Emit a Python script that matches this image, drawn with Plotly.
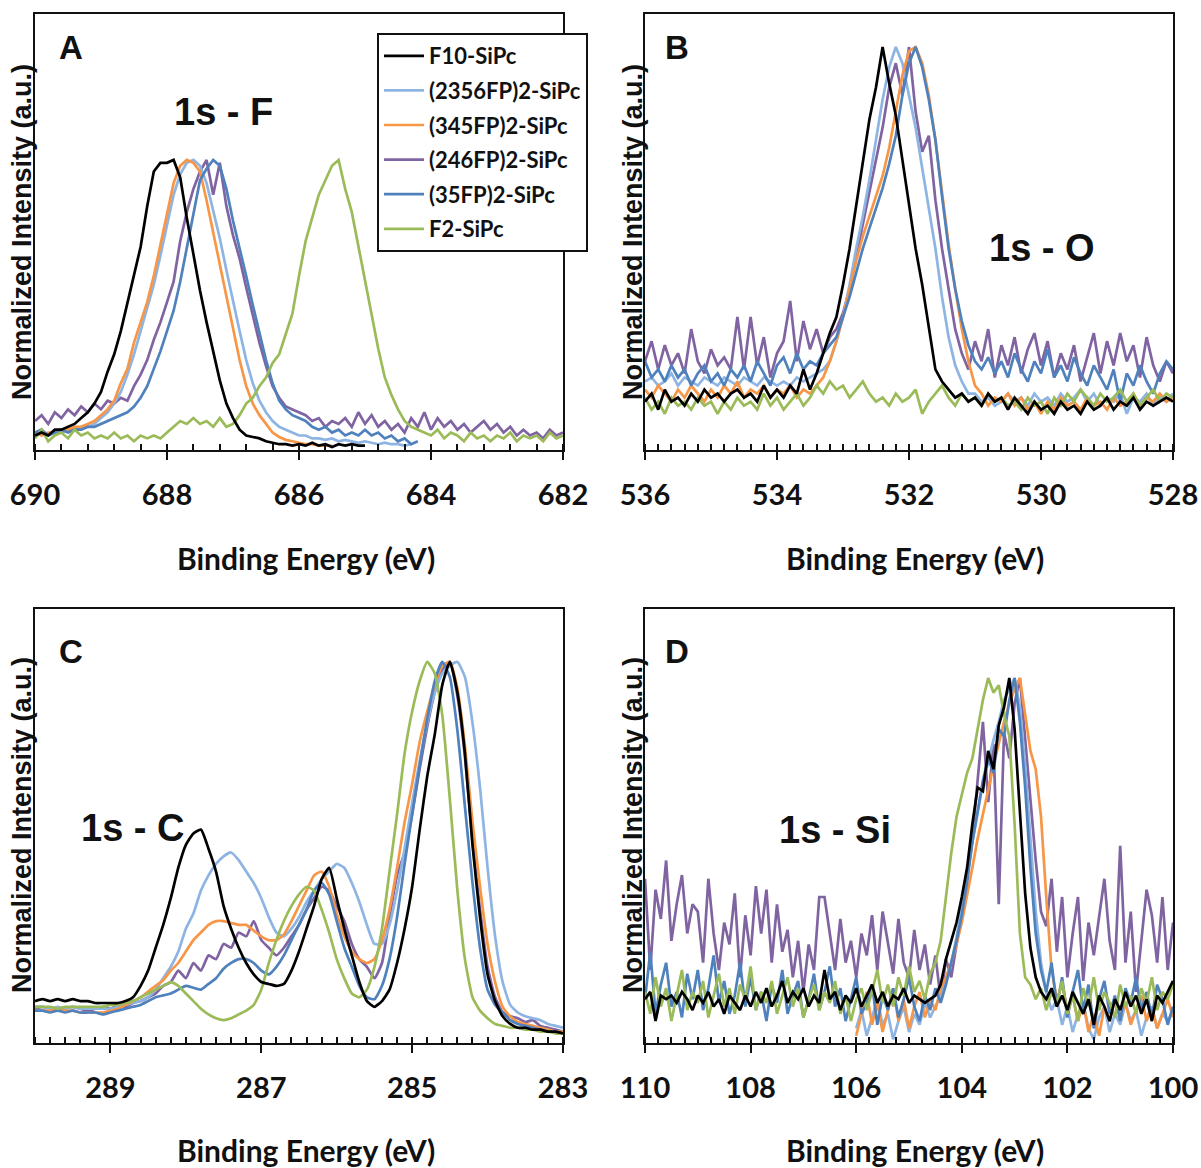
import plotly.graph_objects as go

# ---------------------------------------------------------------------------
# XPS core-level spectra of the fluorinated SiPc series (normalised to 100)
# Energies are sampled every 0.1 eV, running from high to low binding energy.
# ---------------------------------------------------------------------------
STEP = 0.1

# ---- F 1s (690 -> 682 eV) -------------------------------------------------
F1S_START = 690.0
F1S_F10 = [5, 6, 5, 7, 7, 8, 9, 11, 13, 16,
           20, 27, 33, 41, 51, 61, 70, 84, 96, 99,
           99, 100, 94, 80, 67, 55, 44, 34, 24, 16,
           11, 7, 5, 4.5, 4, 3, 2.5, 2, 2, 1.5,
           2, 1.5, 2.5, 1.5, 2, 1, 2, 1.5, 2, 1.5,
           1.5]
F1S_2356 = [5, 6, 5, 6, 6, 7, 7, 8, 8, 9,
            11, 13, 16, 20, 26, 33, 41, 49, 57, 67,
            78, 88, 95, 99, 100, 98, 92, 83, 73, 62,
            51, 41, 31, 23, 17, 13, 10, 8, 7, 6,
            5, 5, 4, 4, 3.5, 4, 3, 3.5, 3, 2.5,
            3, 2.5, 2, 2.5, 2, 2, 1.5, 2]
F1S_345 = [6, 5, 6, 6, 7, 7, 8, 8, 9, 10,
           12, 14, 17, 23, 28, 37, 44, 51, 60, 71,
           82, 92, 98, 100, 99, 96, 86, 75, 64, 52,
           41, 31, 22, 16, 12, 9, 6, 4.5, 3.5, 3,
           2.5, 2, 2, 1.5, 1.5, 1.5]
F1S_246 = [10, 12, 9, 13, 11, 14, 12, 15, 13, 16,
           14, 17, 16, 18, 17, 22, 26, 31, 38, 44,
           51, 58, 72, 82, 90, 96, 100, 88, 99, 84,
           74, 66, 56, 46, 37, 29, 22, 18, 15, 14,
           13, 12, 10, 11, 8, 10, 9, 11, 8, 13,
           9, 12, 8, 10, 7, 9, 6, 11, 8, 13,
           7, 11, 8, 10, 7, 9, 6, 8, 10, 7,
           9, 6, 8, 5, 7, 5, 6, 4, 7, 5,
           6]
F1S_35 = [6, 7, 5, 6, 7, 6, 7, 7, 8, 8,
          9, 10, 11, 12, 13, 15, 18, 22, 28, 34,
          41, 48, 58, 70, 82, 93, 97, 100, 98, 90,
          79, 70, 60, 50, 40, 31, 23, 17, 14, 12,
          11, 10, 8, 7, 8, 6, 7, 5, 6, 5,
          7, 5, 6, 4, 5, 3, 4, 2, 3]
F1S_F2 = [4, 7, 3, 5, 6, 4, 7, 5, 6, 4,
          5, 4, 6, 4, 5, 3, 5, 4, 5, 4,
          6, 8, 10, 9, 11, 9, 10, 8, 11, 8,
          9, 12, 16, 18, 22, 25, 30, 33, 40, 47,
          60, 72, 80, 88, 93, 98, 100, 90, 82, 70,
          59, 47, 35, 25, 19, 14, 10, 8, 7, 6,
          5, 7, 4, 6, 5, 3, 6, 4, 5, 3,
          5, 4, 6, 3, 5, 4, 5, 3, 6, 4,
          5]

# ---- O 1s (536 -> 528 eV) -------------------------------------------------
O1S_START = 536.0
O1S_F10 = [12, 14, 10, 15, 12, 13, 11, 14, 12, 15,
           13, 14, 12, 14, 15, 13, 14, 12, 16, 13,
           15, 13, 16, 14, 20, 15, 19, 24, 29, 33,
           41, 50, 61, 72, 82, 90, 100, 91, 83, 72,
           61, 50, 41, 31, 20, 17, 15, 13, 14, 12,
           13, 11, 14, 12, 13, 10, 13, 11, 9, 12,
           10, 11, 9, 12, 10, 11, 9, 12, 10, 11,
           13, 10, 12, 11, 13, 10, 12, 11, 12, 13,
           12]
O1S_2356 = [17, 18, 16, 17, 19, 16, 18, 17, 16, 18,
            17, 16, 18, 17, 16, 18, 17, 16, 18, 17,
            16, 17, 16, 18, 17, 18, 19, 20, 22, 27,
            33, 41, 50, 58, 67, 77, 87, 95, 100, 96,
            88, 80, 70, 60, 50, 38, 28, 21, 17, 14,
            14, 12, 13, 11, 12, 14, 12, 13, 11, 14,
            12, 13, 11, 14, 12, 13, 15, 12, 14, 11,
            13, 12, 14, 9, 13, 12, 14, 11, 13, 12,
            14]
O1S_345 = [15, 13, 16, 14, 12, 15, 13, 16, 14, 12,
           15, 13, 16, 14, 17, 13, 15, 14, 16, 13,
           15, 14, 16, 13, 15, 14, 16, 18, 22, 27,
           33, 40, 47, 53, 58, 63, 68, 75, 84, 93,
           99, 100, 96, 88, 77, 64, 51, 40, 30, 22,
           16, 14, 11, 13, 12, 14, 11, 13, 10, 12,
           9, 12, 10, 13, 11, 12, 10, 13, 11, 12,
           10, 13, 11, 12, 14, 11, 13, 12, 14, 12,
           13]
O1S_246 = [22, 27, 20, 26, 21, 24, 19, 30, 22, 19,
           25, 21, 23, 20, 33, 20, 33, 21, 28, 18,
           24, 27, 37, 22, 32, 25, 30, 24, 28, 30,
           34, 40, 48, 56, 64, 72, 80, 90, 96, 88,
           100, 84, 74, 78, 62, 50, 40, 30, 24, 20,
           27, 22, 30, 18, 26, 21, 28, 19, 25, 29,
           21, 27, 18, 24, 20, 26, 17, 23, 29, 19,
           27, 21, 29, 22, 26, 18, 28, 21, 17, 22,
           19]
O1S_35 = [22, 18, 20, 17, 21, 18, 20, 16, 19, 21,
          17, 19, 16, 20, 18, 21, 17, 22, 19, 16,
          21, 23, 19, 24, 20, 22, 21, 24, 26, 28,
          33, 38, 44, 50, 55, 60, 65, 71, 78, 88,
          96, 100, 95, 87, 77, 63, 50, 40, 32, 26,
          22, 20, 23, 19, 22, 18, 24, 20, 17, 22,
          19, 25, 18, 21, 17, 23, 19, 16, 21, 18,
          15, 20, 12, 19, 16, 21, 17, 14, 19, 22,
          20]
O1S_F2 = [13, 10, 12, 9, 13, 11, 12, 10, 13, 11,
          12, 9, 12, 10, 13, 11, 12, 10, 14, 11,
          13, 10, 12, 14, 11, 13, 16, 14, 17, 15,
          16, 13, 15, 17, 14, 12, 13, 11, 14, 12,
          13, 15, 9, 12, 14, 16, 13, 11, 14, 12,
          13, 11, 14, 12, 13, 11, 12, 10, 13, 11,
          12, 9, 13, 11, 14, 12, 15, 13, 11, 14,
          12, 13, 15, 12, 14, 11, 13, 15, 12, 14,
          13]

# ---- C 1s (290 -> 283 eV) -------------------------------------------------
C1S_START = 290.0
C1S_F10 = [11, 11.5, 11, 11.5, 11, 11.5, 11, 11, 10.5, 10.5,
           10.5, 10.5, 11, 12, 15, 19, 25, 31, 38, 46,
           52, 55, 56, 51, 45, 36, 30, 25, 21, 18,
           16, 15.5, 15, 15.5, 19, 24, 30, 36, 43, 46,
           38, 30, 23, 16, 11, 9.5, 11, 14, 21, 30,
           41, 56, 70, 81, 94, 100, 92, 76, 52, 33,
           18, 11, 7, 5, 4, 4, 3.5, 3.5, 3, 3,
           2.5]
C1S_2356 = [9.5, 9.5, 9, 9.5, 9, 9.5, 9, 9, 9, 9,
            9, 9.5, 10, 10.5, 11, 12, 14, 17, 20, 24,
            30, 34, 40, 44, 47, 49, 50, 48, 45, 42,
            38, 33, 29, 28, 30, 33, 37, 40, 43, 45,
            47, 46, 42, 37, 31, 26, 26, 31, 40, 51,
            63, 74, 84, 92, 97, 99, 100, 96, 84, 67,
            46, 28, 16, 10, 8, 7, 6.5, 6, 5, 4.5,
            4]
C1S_345 = [8.5, 8.5, 8.5, 8.5, 8.5, 8.5, 8, 8, 8, 8,
           8.5, 9, 10, 11, 12, 13.5, 15, 16.5, 19, 21,
           24, 27, 29, 31, 32, 32, 31.5, 31, 31, 29.5,
           28, 27, 27, 28.5, 32, 36, 40, 44, 45, 41,
           34, 28, 24, 22, 21, 22, 27, 35, 46, 58,
           68, 79, 87, 94, 99, 100, 93, 78, 58, 41,
           26, 16, 9.5, 7, 5.5, 5, 4.5, 4, 3.5, 3,
           3]
C1S_246 = [9, 9.5, 9, 8.5, 9, 9.5, 9, 8.5, 9, 9.5,
           9, 10, 9.5, 10.5, 11, 12, 13, 15, 16, 19,
           17, 21, 19, 23, 22, 26, 25, 29, 28, 32,
           27, 25, 23, 25, 28, 31, 35, 38, 41, 40,
           36, 32, 26, 22, 20, 17, 21, 33, 44, 50,
           60, 72, 83, 92, 98, 100, 91, 75, 53, 35,
           20, 12, 8, 7, 6.5, 5.5, 6, 4.5, 4, 3.5,
           3]
C1S_35 = [8.5, 8.5, 8, 8.5, 8, 8.5, 8, 8, 8, 7.5,
          8, 8.5, 9, 9.5, 10, 11, 12, 12.5, 13, 14,
          15, 14.5, 14, 15.5, 17, 19.5, 21, 22, 22, 21,
          19, 18, 20, 23, 27, 31, 35, 40, 42, 39,
          32, 25, 20, 15, 12, 11.5, 15, 22, 33, 47,
          60, 73, 85, 95, 100, 96, 82, 62, 42, 25,
          14, 10, 8, 6, 5, 4.5, 4, 3.5, 3, 3,
          2.5]
C1S_F2 = [9.5, 9.5, 9.5, 9, 9.5, 9.5, 9.5, 9.5, 9.5, 9.5,
          10, 10, 10.5, 11, 12, 13, 14, 15, 16, 15,
          13, 11, 9, 7.5, 6.5, 6, 6.5, 7.5, 8.5, 10,
          14, 21, 27, 32, 36, 39, 41, 40, 35, 29,
          22, 17, 13, 12, 14, 20, 30, 45, 60, 76,
          87, 95, 100, 97, 86, 64, 40, 22, 12, 8.5,
          6.5, 5, 4.5, 4, 4, 3.5, 3.5, 3, 3, 2.5,
          2.5]

# ---- Si (110 -> 100 eV) ---------------------------------------------------
SI_START = 110.0
SI_PARTIAL_START = 106.0   # (345FP)2 and (2356FP)2 scans begin here
SI_F10 = [12, 14, 6, 13, 12, 13, 11, 14, 12, 9,
          13, 11, 14, 10, 12, 8, 13, 11, 9, 13,
          10, 14, 11, 15, 10, 13, 17, 11, 14, 12,
          15, 10, 13, 11, 20, 12, 14, 9, 13, 11,
          15, 10, 13, 16, 11, 14, 10, 13, 12, 15,
          11, 13, 12, 11, 12, 13, 16, 23, 28, 33,
          40, 48, 60, 70, 69, 80, 75, 87, 92, 100,
          86, 64, 41, 26, 18, 14, 12, 15, 10, 13,
          9, 14, 11, 8, 12, 5, 13, 10, 6, 12,
          9, 14, 10, 13, 8, 12, 6, 13, 11, 14,
          17]
SI_2356 = [4, 9, 2, 7, 12, 5, 8, 1, 6, 10,
           3, 8, 5, 11, 7, 10, 13, 17, 22, 29,
           37, 46, 55, 63, 71, 77, 83, 88, 94, 97,
           100, 92, 76, 56, 36, 22, 14, 9, 12, 5,
           10, 3, 8, 11, 4, 1, 7, 10, 3, 8,
           5, 11, 6, 9, 2, 7, 10, 4, 8, 6,
           9]
SI_345 = [2, 8, 14, 5, 11, 3, 9, 15, 6, 12,
          4, 10, 14, 7, 12, 9, 15, 18, 22, 27,
          33, 40, 48, 56, 63, 70, 76, 82, 88, 93,
          97, 100, 90, 80, 75, 62, 40, 20, 12, 16,
          9, 13, 6, 11, 3, 8, 2, 10, 6, 12,
          7, 11, 5, 9, 13, 6, 10, 4, 8, 12,
          7]
SI_246 = [45, 20, 42, 34, 50, 28, 38, 46, 30, 38,
          36, 22, 45, 30, 20, 33, 27, 41, 18, 35,
          24, 43, 30, 42, 22, 38, 25, 31, 18, 28,
          14, 27, 20, 40, 40, 30, 20, 34, 22, 28,
          18, 30, 24, 35, 20, 36, 27, 19, 34, 22,
          18, 31, 20, 27, 16, 24, 12, 23, 18, 27,
          35, 45, 56, 71, 88, 66, 82, 38, 85, 78,
          93, 100, 83, 66, 50, 36, 32, 45, 25, 40,
          18, 30, 40, 17, 33, 24, 35, 45, 28, 20,
          54, 22, 36, 14, 28, 42, 35, 22, 40, 20,
          33]
SI_35 = [12, 25, 8, 16, 22, 10, 14, 7, 19, 12,
         20, 9, 15, 24, 11, 17, 8, 13, 22, 10,
         18, 9, 14, 6, 16, 11, 20, 8, 13, 17,
         7, 12, 19, 9, 14, 21, 10, 15, 6, 12,
         18, 8, 11, 16, 5, 13, 9, 15, 7, 12,
         18, 10, 6, 13, 9, 15, 11, 16, 22, 28,
         35, 44, 55, 64, 72, 78, 74, 86, 84, 94,
         100, 88, 70, 48, 30, 20, 14, 22, 10, 18,
         7, 14, 20, 9, 16, 4, 12, 17, 8, 13,
         6, 15, 11, 18, 9, 14, 7, 16, 12, 5,
         10]
SI_F2 = [14, 8, 18, 10, 15, 6, 13, 20, 9, 14,
         11, 17, 7, 13, 19, 10, 15, 8, 16, 12,
         21, 9, 14, 11, 17, 8, 13, 18, 10, 15,
         7, 12, 16, 9, 14, 11, 17, 8, 13, 6,
         12, 15, 9, 14, 20, 11, 16, 10, 18, 13,
         21, 14, 17, 12, 19, 22, 28, 40, 52, 62,
         68, 74, 78, 86, 94, 100, 96, 98, 90, 84,
         60, 30, 18, 16, 12, 15, 9, 14, 11, 17,
         8, 13, 6, 15, 10, 18, 9, 14, 11, 7,
         16, 10, 13, 8, 15, 11, 18, 9, 14, 12,
         16]

# ---- compounds, legend order and colours ------------------------------------
LEGEND_ORDER = ["F10-SiPc", "(2356FP)2-SiPc", "(345FP)2-SiPc",
                "(246FP)2-SiPc", "(35FP)2-SiPc", "F2-SiPc"]
DRAW_ORDER = ["(246FP)2-SiPc", "(2356FP)2-SiPc", "(345FP)2-SiPc",
              "(35FP)2-SiPc", "F2-SiPc", "F10-SiPc"]
COLORS = {
    "F10-SiPc": "#000000",
    "(2356FP)2-SiPc": "#8EB4E3",
    "(345FP)2-SiPc": "#F79646",
    "(246FP)2-SiPc": "#8064A2",
    "(35FP)2-SiPc": "#4F81BD",
    "F2-SiPc": "#9BBB59",
}

PANELS = [
    # axis suffix, series {name: (first energy, intensities)}
    ("", {
        "F10-SiPc": (F1S_START, F1S_F10),
        "(2356FP)2-SiPc": (F1S_START, F1S_2356),
        "(345FP)2-SiPc": (F1S_START, F1S_345),
        "(246FP)2-SiPc": (F1S_START, F1S_246),
        "(35FP)2-SiPc": (F1S_START, F1S_35),
        "F2-SiPc": (F1S_START, F1S_F2),
    }),
    ("2", {
        "F10-SiPc": (O1S_START, O1S_F10),
        "(2356FP)2-SiPc": (O1S_START, O1S_2356),
        "(345FP)2-SiPc": (O1S_START, O1S_345),
        "(246FP)2-SiPc": (O1S_START, O1S_246),
        "(35FP)2-SiPc": (O1S_START, O1S_35),
        "F2-SiPc": (O1S_START, O1S_F2),
    }),
    ("3", {
        "F10-SiPc": (C1S_START, C1S_F10),
        "(2356FP)2-SiPc": (C1S_START, C1S_2356),
        "(345FP)2-SiPc": (C1S_START, C1S_345),
        "(246FP)2-SiPc": (C1S_START, C1S_246),
        "(35FP)2-SiPc": (C1S_START, C1S_35),
        "F2-SiPc": (C1S_START, C1S_F2),
    }),
    ("4", {
        "F10-SiPc": (SI_START, SI_F10),
        "(2356FP)2-SiPc": (SI_PARTIAL_START, SI_2356),
        "(345FP)2-SiPc": (SI_PARTIAL_START, SI_345),
        "(246FP)2-SiPc": (SI_START, SI_246),
        "(35FP)2-SiPc": (SI_START, SI_35),
        "F2-SiPc": (SI_START, SI_F2),
    }),
]


def energies(start, count):
    """Binding-energy sample points of a scan, high to low."""
    return [round(start - STEP * i, 2) for i in range(count)]


fig = go.Figure()
for suffix, series in PANELS:
    for name in DRAW_ORDER:
        start, values = series[name]
        fig.add_trace(go.Scatter(
            x=energies(start, len(values)), y=values,
            mode="lines", name=name, legendgroup=name,
            xaxis="x" + suffix, yaxis="y" + suffix,
            line=dict(color=COLORS[name], width=2.7,
                      shape="spline" if suffix == "3" else "linear",
                      smoothing=0.5),
            showlegend=(suffix == ""),
            legendrank=LEGEND_ORDER.index(name) + 1,
            hoverinfo="skip",
        ))

W, H = 1201, 1168
INK = "#111111"
TICK_FONT = "Lato, Open Sans, sans-serif"
ARIAL = "Liberation Sans, Arial, sans-serif"

COLS = {"left": (35, 563), "right": (645, 1173)}
ROWS = {"top": (14, 450), "bottom": (609, 1043)}


def xdom(c):
    a, b = COLS[c]
    return [a / W, b / W]


def ydom(r):
    a, b = ROWS[r]
    return [1 - b / H, 1 - a / H]


def x_axis(col, row, rng, minor_step, anchor):
    return dict(
        domain=xdom(col), range=rng, anchor=anchor, automargin=False,
        tickmode="linear", tick0=rng[1], dtick=2,
        ticks="outside", ticklen=8, tickwidth=2, tickcolor=INK,
        showline=True, linewidth=2, linecolor=INK, mirror=True,
        showgrid=False, zeroline=False,
        tickfont=dict(family=TICK_FONT, size=29, color=INK, weight="bold"),
        ticklabelstandoff=10,
        minor=dict(ticks="inside", ticklen=6, tickwidth=1.5, tickcolor=INK,
                   tick0=rng[1], dtick=minor_step, showgrid=False),
    )


def y_axis(row, top, anchor):
    return dict(
        domain=ydom(row), range=[0, top], anchor=anchor, automargin=False,
        showline=True, linewidth=2, linecolor=INK, mirror=True,
        showticklabels=False, ticks="", showgrid=False, zeroline=False,
    )


fig.update_layout(
    width=W, height=H,
    margin=dict(l=0, r=0, t=0, b=0, autoexpand=False),
    paper_bgcolor="white", plot_bgcolor="white",
    xaxis=x_axis("left", "top", [690, 682], 0.4, "y"),
    yaxis=y_axis("top", 150.3, "x"),
    xaxis2=x_axis("right", "top", [536, 528], 0.2, "y2"),
    yaxis2=y_axis("top", 108.2, "x2"),
    xaxis3=x_axis("left", "bottom", [290, 283], 0.2, "y3"),
    yaxis3=y_axis("bottom", 113.9, "x3"),
    xaxis4=x_axis("right", "bottom", [110, 100], 0.25, "y4"),
    yaxis4=y_axis("bottom", 118.9, "x4"),
    showlegend=True,
    legend=dict(
        x=377 / W, y=1 - 33 / H, xanchor="left", yanchor="top",
        bgcolor="white", bordercolor=INK, borderwidth=2,
        font=dict(family=TICK_FONT, size=22, color=INK, weight="bold"),
        traceorder="grouped", tracegroupgap=3, itemwidth=40,
    ),
)


def note(text, px, py, size, family=ARIAL, angle=0):
    fig.add_annotation(
        text=text, x=px / W, y=1 - py / H, xref="paper", yref="paper",
        showarrow=False, xanchor="center", yanchor="middle", textangle=angle,
        font=dict(family=family, size=size, color=INK, weight="bold"),
    )


# panel letters
for letter, px, py in [("A", 71, 48), ("B", 677, 48), ("C", 71, 651), ("D", 677, 651)]:
    note(letter, px, py, 33)

# core-level labels
note("1s - F", 223, 112, 38)
note("1s - O", 1042, 248, 38)
note("1s - C", 132, 828, 38)
note("1s - Si", 835, 830, 38)

# axis titles
for px, py in [(22, 232), (633, 232), (22, 825), (633, 825)]:
    note("Normalized Intensity (a.u.)", px, py, 27, angle=-90)
for px, py in [(306, 558), (915, 558), (306, 1150), (915, 1150)]:
    note("Binding Energy (eV)", px, py, 30, family=TICK_FONT)

fig.write_html("out.html")
